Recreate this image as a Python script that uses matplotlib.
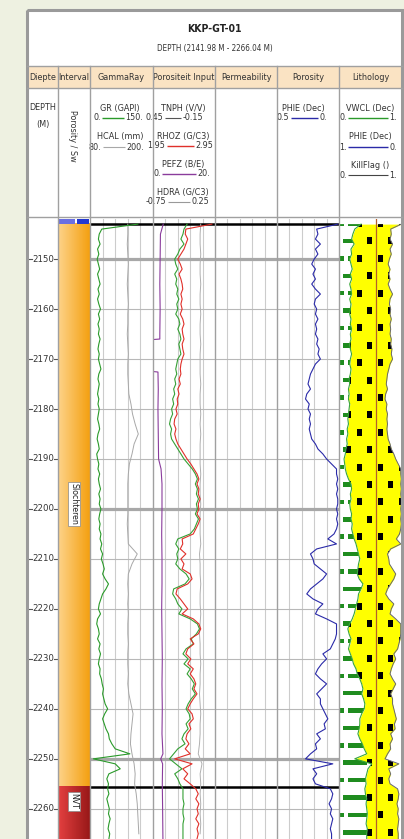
import numpy as np
import matplotlib
matplotlib.use("Agg")
import matplotlib.pyplot as plt
from matplotlib import font_manager
from matplotlib.font_manager import FontProperties
from matplotlib.colors import LinearSegmentedColormap
from matplotlib.patches import Rectangle
from matplotlib.collections import PatchCollection

W, H = 404, 839
TOP, BASE = 2141.98, 2266.04
DATA_Y0 = 219  # pixel row of the top depth

# ---- log data ----
DEPTH = np.arange(2143, 2267)          # 1 m samples
GR = [114, 28, 22, 20, 24, 18, 21, 17, 20, 23,
      18, 21, 24, 19, 22, 18, 21, 25, 20, 23,
      19, 22, 20, 24, 21, 19, 22, 20, 23, 26,
      21, 19, 22, 20, 18, 21, 19, 22, 20, 18,
      21, 23, 19, 17, 20, 22, 16, 18, 21, 19,
      23, 20, 22, 25, 21, 24, 22, 26, 23, 21,
      24, 22, 26, 24, 28, 25, 30, 27, 31, 34,
      30, 36, 44, 38, 30, 26, 22, 20, 25, 18,
      16, 20, 22, 18, 24, 21, 25, 22, 20, 24,
      23, 27, 29, 32, 30, 33, 36, 42, 35, 30,
      34, 38, 44, 46, 52, 60, 95, 8, 60, 72,
      45, 40, 44, 42, 45, 40, 43, 46, 44, 48,
      45, 43, 47, 45]
TNPH = [0.12, 0.15, 0.16, 0.18, 0.15, 0.19, 0.21, 0.24, 0.23, 0.21,
        0.24, 0.22, 0.23, 0.21, 0.22, 0.20, 0.22, 0.21, 0.23, 0.20,
        0.19, 0.21, 0.19, 0.18, 0.20, 0.19, 0.18, 0.21, 0.22, 0.23,
        0.22, 0.24, 0.23, 0.25, 0.24, 0.26, 0.25, 0.27, 0.26, 0.28,
        0.29, 0.27, 0.28, 0.27, 0.24, 0.21, 0.18, 0.15, 0.11, 0.07,
        0.04, 0.02, 0.04, 0.02, 0.03, 0.01, 0.03, 0.02, 0.04, 0.01,
        0.03, 0.05, 0.09, 0.21, 0.23, 0.20, 0.22, 0.21, 0.23, 0.19,
        0.13, 0.10, 0.14, 0.25, 0.26, 0.23, 0.21, 0.17, 0.20, 0.09,
        0.02, 0.00, 0.03, 0.08, 0.06, 0.13, 0.16, 0.11, 0.15, 0.09,
        0.12, 0.08, 0.05, 0.07, 0.04, 0.08, 0.11, 0.13, 0.10, 0.09,
        0.13, 0.11, 0.15, 0.17, 0.14, 0.21, 0.25, 0.29, 0.23, 0.17,
        0.24, 0.21, 0.19, 0.16, 0.16, 0.16, 0.15, 0.16, 0.16, 0.15,
        0.16, 0.16, 0.16, 0.16]
RHOZ = [2.90, 2.48, 2.47, 2.51, 2.48, 2.45, 2.40, 2.35, 2.39, 2.42,
        2.37, 2.40, 2.42, 2.43, 2.40, 2.42, 2.40, 2.42, 2.39, 2.43,
        2.45, 2.42, 2.43, 2.45, 2.42, 2.43, 2.45, 2.42, 2.40, 2.39,
        2.40, 2.37, 2.39, 2.35, 2.37, 2.34, 2.35, 2.32, 2.34, 2.30,
        2.29, 2.32, 2.30, 2.32, 2.35, 2.40, 2.45, 2.50, 2.56, 2.61,
        2.66, 2.69, 2.66, 2.69, 2.68, 2.71, 2.68, 2.69, 2.66, 2.71,
        2.68, 2.64, 2.60, 2.42, 2.43, 2.39, 2.48, 2.40, 2.45, 2.42,
        2.55, 2.58, 2.51, 2.34, 2.32, 2.39, 2.45, 2.51, 2.42, 2.60,
        2.69, 2.72, 2.68, 2.55, 2.61, 2.51, 2.48, 2.56, 2.51, 2.60,
        2.55, 2.61, 2.64, 2.61, 2.66, 2.60, 2.55, 2.51, 2.58, 2.60,
        2.53, 2.56, 2.50, 2.48, 2.53, 2.47, 2.55, 2.30, 2.58, 2.43,
        2.51, 2.45, 2.55, 2.64, 2.68, 2.64, 2.69, 2.66, 2.68, 2.64,
        2.69, 2.66, 2.68, 2.66]
PHIE = [0.01, 0.18, 0.17, 0.19, 0.15, 0.19, 0.17, 0.20, 0.22, 0.19,
        0.21, 0.19, 0.22, 0.19, 0.15, 0.19, 0.20, 0.18, 0.19, 0.17,
        0.19, 0.18, 0.19, 0.17, 0.18, 0.16, 0.17, 0.15, 0.19, 0.21,
        0.23, 0.24, 0.25, 0.23, 0.26, 0.27, 0.24, 0.25, 0.23, 0.24,
        0.23, 0.24, 0.23, 0.22, 0.19, 0.17, 0.13, 0.10, 0.06, 0.02,
        0.02, 0.01, 0.02, 0.01, 0.02, 0.01, 0.01, 0.02, 0.01, 0.02,
        0.01, 0.02, 0.04, 0.09, 0.02, 0.18, 0.23, 0.21, 0.20, 0.15,
        0.10, 0.13, 0.18, 0.23, 0.26, 0.21, 0.13, 0.17, 0.19, 0.10,
        0.02, 0.02, 0.02, 0.03, 0.05, 0.07, 0.13, 0.10, 0.14, 0.17,
        0.19, 0.15, 0.10, 0.14, 0.18, 0.15, 0.15, 0.13, 0.11, 0.09,
        0.12, 0.11, 0.18, 0.15, 0.19, 0.18, 0.23, 0.27, 0.05, 0.21,
        0.18, 0.21, 0.19, 0.07, 0.05, 0.06, 0.08, 0.06, 0.07, 0.05,
        0.06, 0.07, 0.06, 0.06]
VWCL = [0.35, 0.25, 0.22, 0.20, 0.24, 0.19, 0.20, 0.17, 0.19, 0.21,
        0.18, 0.20, 0.17, 0.19, 0.20, 0.17, 0.19, 0.18, 0.17, 0.19,
        0.18, 0.20, 0.18, 0.19, 0.17, 0.18, 0.20, 0.18, 0.17, 0.19,
        0.18, 0.16, 0.17, 0.15, 0.16, 0.15, 0.17, 0.16, 0.15, 0.14,
        0.15, 0.13, 0.14, 0.12, 0.13, 0.11, 0.10, 0.08, 0.09, 0.10,
        0.12, 0.15, 0.19, 0.20, 0.18, 0.19, 0.17, 0.18, 0.20, 0.19,
        0.21, 0.20, 0.22, 0.24, 0.27, 0.29, 0.31, 0.33, 0.31, 0.30,
        0.29, 0.32, 0.38, 0.35, 0.31, 0.30, 0.28, 0.26, 0.24, 0.21,
        0.17, 0.14, 0.16, 0.19, 0.17, 0.15, 0.18, 0.21, 0.23, 0.27,
        0.29, 0.33, 0.36, 0.38, 0.36, 0.39, 0.41, 0.40, 0.36, 0.33,
        0.33, 0.32, 0.30, 0.33, 0.37, 0.40, 0.44, 0.25, 0.52, 0.46,
        0.44, 0.42, 0.43, 0.41, 0.42, 0.44, 0.43, 0.44, 0.45, 0.44,
        0.43, 0.45, 0.44, 0.44]

DEPTH_2M = np.arange(2143, 2266, 2)    # 2 m samples
HCAL = [152, 152, 151, 152, 153, 152, 151, 152, 153, 152,
        152, 151, 152, 153, 152, 152, 153, 154, 158, 161,
        166, 172, 164, 160, 155, 153, 152, 152, 152, 152,
        151, 152, 153, 170, 160, 153, 152, 153, 152, 153,
        152, 152, 153, 152, 152, 153, 152, 154, 158, 162,
        160, 158, 157, 160, 164, 166, 165, 168, 170, 171,
        172, 173]
HDRA = [0.02, 0.01, 0.01, 0.02, 0.01, 0.01, 0.02, 0.01, 0.01, 0.02,
        0.01, 0.01, 0.02, 0.01, 0.01, 0.01, 0.02, 0.01, 0.01, 0.02,
        0.01, 0.02, 0.01, 0.01, 0.01, 0.02, 0.01, 0.01, 0.02, 0.01,
        0.01, 0.01, 0.02, 0.00, 0.01, 0.01, 0.02, 0.01, 0.01, 0.02,
        0.01, 0.00, 0.01, 0.01, 0.02, 0.01, 0.01, 0.00, 0.01, 0.02,
        0.01, 0.01, 0.00, -0.02, 0.04, 0.01, 0.02, 0.01, 0.02, 0.01,
        0.02, 0.01]

PEFZ_DEPTH = [2143, 2145, 2150, 2155, 2160, 2165, 2166, 2166.1, 2172.5, 2172.6,
              2176, 2180, 2185, 2190, 2192, 2195, 2200, 2205, 2210, 2215,
              2220, 2225, 2230, 2235, 2240, 2245, 2249, 2250, 2251, 2255,
              2260, 2266]
PEFZ = [3.3, 2.4, 2.3, 2.2, 2.3, 2.2, 2.2, 0.0, 0.0, 1.6,
        1.7, 1.6, 1.7, 1.8, 2.6, 2.9, 2.9, 2.8, 2.9, 2.9,
        2.8, 2.9, 3.0, 2.9, 3.0, 2.9, 3.2, 2.5, 3.1, 3.0,
        3.1, 3.2]

ZONE_NAMES = ["Slochteren", "NVT"]
ZONE_TOPS = [2142.9, 2255.6]
ZONE_BASES = [2255.6, BASE]
ZONE_LABEL_DEPTH = [2199, 2258.5]

DEPTH_LABELS = np.arange(2150, 2261, 10)

# ---- layout (pixels) ----
COLS = [27, 58, 90, 153, 215, 277, 339, 402]
HEADERS = ["Diepte", "Interval", "GammaRay", "Porositeit Input",
           "Permeability", "Porosity", "Lithology"]


def pick_font(bold=False):
    # a narrow face looks closest to the screenshot; fall back to Liberation Sans
    fonts = font_manager.fontManager.ttflist
    for f in fonts:
        fn = f.fname.lower()
        if ("narrow" in fn or "condensed" in fn) and "italic" not in fn \
                and "oblique" not in fn and (("bold" in fn) == bold):
            return FontProperties(fname=f.fname)
    return FontProperties(family=["Liberation Sans", "DejaVu Sans"],
                          weight="bold" if bold else "normal")


FP = pick_font()
FPB = pick_font(bold=True)
FS = 6.5
TXT = "#333333"


def txt(ax, x, y, s, size=FS, fp=FP, **kw):
    kw.setdefault("ha", "center")
    kw.setdefault("va", "center")
    kw.setdefault("color", TXT)
    return ax.text(x, y, s, fontproperties=fp, fontsize=size, **kw)


fig = plt.figure(figsize=(W / 100, H / 100), dpi=100)
fig.patch.set_facecolor("#eef1e1")

base = fig.add_axes([0, 0, 1, 1])
base.set_xlim(0, W)
base.set_ylim(H, 0)
base.axis("off")
base.add_patch(Rectangle((27, 10), 375, 840, facecolor="white", edgecolor="none"))
base.add_patch(Rectangle((27, 66), 375, 22, facecolor="#fae3c3", edgecolor="none"))

txt(base, 214.5, 29, "KKP-GT-01", size=7.5, fp=FPB, color="#222")
txt(base, 214.5, 49, "DEPTH (2141.98 M - 2266.04 M)", size=5.8)
for (x0, x1), name in zip(zip(COLS[:-1], COLS[1:]), HEADERS):
    txt(base, (x0 + x1) / 2, 77.5, name)

# legend block
txt(base, 43, 108, "DEPTH")
txt(base, 43, 125, "(M)")
txt(base, 73, 136, "Porosity / Sw", rotation=270)


def legend_item(cx, y, name, left, right, lx0, lx1, color, lw=1.0):
    txt(base, cx, y, name)
    yr = y + 10
    base.plot([lx0, lx1], [yr, yr], color=color, lw=lw, solid_capstyle="butt")
    txt(base, lx0 - 1.5, yr, left, ha="right")
    txt(base, lx1 + 1.5, yr, right, ha="left")


C_GR, C_HCAL = "#2a9a2a", "#a8a8a8"
C_TNPH, C_RHOZ, C_PEFZ, C_HDRA = "#35a035", "#e0302a", "#8a3c9c", "#b0b0b0"
C_PHIE = "#2a2aa8"

legend_item(120, 108, "GR (GAPI)", "0.", "150.", 102, 124, C_GR)
legend_item(120, 137, "HCAL (mm)", "80.", "200.", 103, 125, C_HCAL, 0.8)
legend_item(183, 108, "TNPH (V/V)", "0.45", "-0.15", 165, 181, "#555555", 0.8)
legend_item(183, 136, "RHOZ (G/C3)", "1.95", "2.95", 167, 194, C_RHOZ)
legend_item(183, 164, "PEFZ (B/E)", "0.", "20.", 162, 196, C_PEFZ)
legend_item(183, 192, "HDRA (G/C3)", "-0.75", "0.25", 168, 190, "#999999", 0.8)
legend_item(303, 108, "PHIE (Dec)", "0.5", "0.", 291, 318, C_PHIE)
legend_item(370, 108, "VWCL (Dec)", "0.", "1.", 348, 388, C_GR)
legend_item(370, 137, "PHIE (Dec)", "1.", "0.", 348, 388, C_PHIE)
legend_item(370, 165, "KillFlag ()", "0.", "1.", 348, 388, "#444444", 0.8)


def track_ax(x0, x1, xlim=(0, 1)):
    ax = fig.add_axes([x0 / W, 0, (x1 - x0) / W, (H - DATA_Y0) / H])
    ax.set_xlim(*xlim)
    ax.set_ylim(BASE, TOP)
    ax.axis("off")
    return ax


def grid(ax, fracs=(0.2, 0.4, 0.6, 0.8)):
    for f in fracs:
        ax.axvline(f, color="#cccccc", lw=0.8, zorder=0)
    for d in DEPTH_LABELS:
        thick = d % 50 == 0
        ax.axhline(d, color="#a8a8a8" if thick else "#b8b8b8",
                   lw=2.3 if thick else 0.8, zorder=0.5)
    for d in ZONE_TOPS:
        ax.axhline(d, color="black", lw=1.8, zorder=1)


# depth column
axd = track_ax(COLS[0], COLS[1])
for d in DEPTH_LABELS:
    txt(axd, 0.52, d, f"{d}", size=6.8)
    axd.plot([0.03, 0.15], [d, d], color="#555", lw=0.8)
    axd.plot([0.86, 1.0], [d, d], color="#555", lw=0.8)

# interval column
axi = track_ax(COLS[1], COLS[2])
grad = np.linspace(0, 1, 64)[None, :]
zone_cmaps = [LinearSegmentedColormap.from_list("sl", ["#fdd38a", "#f4a010"]),
              LinearSegmentedColormap.from_list("nv", ["#e44040", "#981818"])]
for name, t, b, ld, cm in zip(ZONE_NAMES, ZONE_TOPS, ZONE_BASES, ZONE_LABEL_DEPTH, zone_cmaps):
    axi.imshow(grad, cmap=cm, extent=[0, 1, b, t], aspect="auto", zorder=1)
    txt(axi, 0.5, ld, name, size=6.3, rotation=270, color="#222", zorder=3,
        bbox=dict(boxstyle="square,pad=0.15", fc="white", ec="#888", lw=0.5))
axi.add_patch(Rectangle((0.03, TOP), 0.5, ZONE_TOPS[0] - TOP, fc="#6b6fe0", ec="none", zorder=2))
axi.add_patch(Rectangle((0.6, TOP), 0.37, ZONE_TOPS[0] - TOP, fc="#2438d0", ec="none", zorder=2))
axi.set_xlim(0, 1)
axi.set_ylim(BASE, TOP)

# GammaRay track
grid(track_ax(COLS[2], COLS[3]))
track_ax(COLS[2], COLS[3], (80, 200)).plot(HCAL, DEPTH_2M, color=C_HCAL, lw=0.7)
track_ax(COLS[2], COLS[3], (0, 150)).plot(GR, DEPTH, color=C_GR, lw=0.8)

# Porositeit Input track
grid(track_ax(COLS[3], COLS[4]))
track_ax(COLS[3], COLS[4], (-0.75, 0.25)).plot(HDRA, DEPTH_2M, color=C_HDRA, lw=0.7)
track_ax(COLS[3], COLS[4], (0, 20)).plot(PEFZ, PEFZ_DEPTH, color=C_PEFZ, lw=0.8)
track_ax(COLS[3], COLS[4], (0.45, -0.15)).plot(TNPH, DEPTH, color=C_TNPH, lw=0.8)
track_ax(COLS[3], COLS[4], (1.95, 2.95)).plot(RHOZ, DEPTH, color=C_RHOZ, lw=0.8)

# Permeability track (empty)
grid(track_ax(COLS[4], COLS[5]))

# Porosity track
axf = track_ax(COLS[5], COLS[6], (0.5, 0.0))
grid(axf, fracs=(0.4, 0.3, 0.2, 0.1))
axf.plot(PHIE, DEPTH, color=C_PHIE, lw=0.8, zorder=2)

# Lithology track: clay | matrix | porosity
axl = track_ax(COLS[6], COLS[7])
vw = np.array(VWCL)
rp = 1 - np.array(PHIE)
sand = axl.fill_betweenx(DEPTH, vw, rp, color="#ffff00", lw=0, zorder=1)
clay = axl.fill_betweenx(DEPTH, 0, vw, color="white", lw=0, zorder=1)

sq, dash = [], []
for k in range(37):
    yc = 2142.9 + k * 3.48
    off = 0.32 if k % 2 == 0 else 0.155
    for j in range(-1, 4):
        xc = off + j * 0.333
        sq.append(Rectangle((xc - 0.04, yc - 0.7), 0.08, 1.4))
    if k % 2 == 0:
        dash.append(Rectangle((0.01, yc - 0.45), 0.07, 0.9))
        dash.append(Rectangle((0.14, yc - 0.45), 0.31, 0.9))
    else:
        dash.append(Rectangle((0.06, yc - 0.45), 0.39, 0.9))
pc_sq = PatchCollection(sq, facecolor="black", edgecolor="none", zorder=2)
axl.add_collection(pc_sq)
pc_sq.set_clip_path(sand.get_paths()[0], axl.transData)
pc_d = PatchCollection(dash, facecolor="#1f8c1f", edgecolor="none", zorder=2)
axl.add_collection(pc_d)
pc_d.set_clip_path(clay.get_paths()[0], axl.transData)
axl.plot(vw, DEPTH, color="#3aa63a", lw=0.8, zorder=3)
axl.plot(rp, DEPTH, color="#666677", lw=0.7, zorder=3)
axl.axvline(0.59, color="#b5602a", lw=0.9, zorder=3)
axl.set_xlim(0, 1)
axl.set_ylim(BASE, TOP)

# overlay: column separators and frame
over = fig.add_axes([0, 0, 1, 1])
over.set_xlim(0, W)
over.set_ylim(H, 0)
over.axis("off")
for x in COLS[1:-1]:
    over.plot([x, x], [66, H], color="#a0a0a0", lw=1.0)
for y in [66, 88, 217]:
    over.plot([27, 402], [y, y], color="#a0a0a0", lw=1.0)
over.add_patch(Rectangle((27, 10), 375, 845, fill=False, ec="#9a9a9a", lw=2.2))

fig.savefig("out.png", dpi=100, facecolor=fig.get_facecolor())
